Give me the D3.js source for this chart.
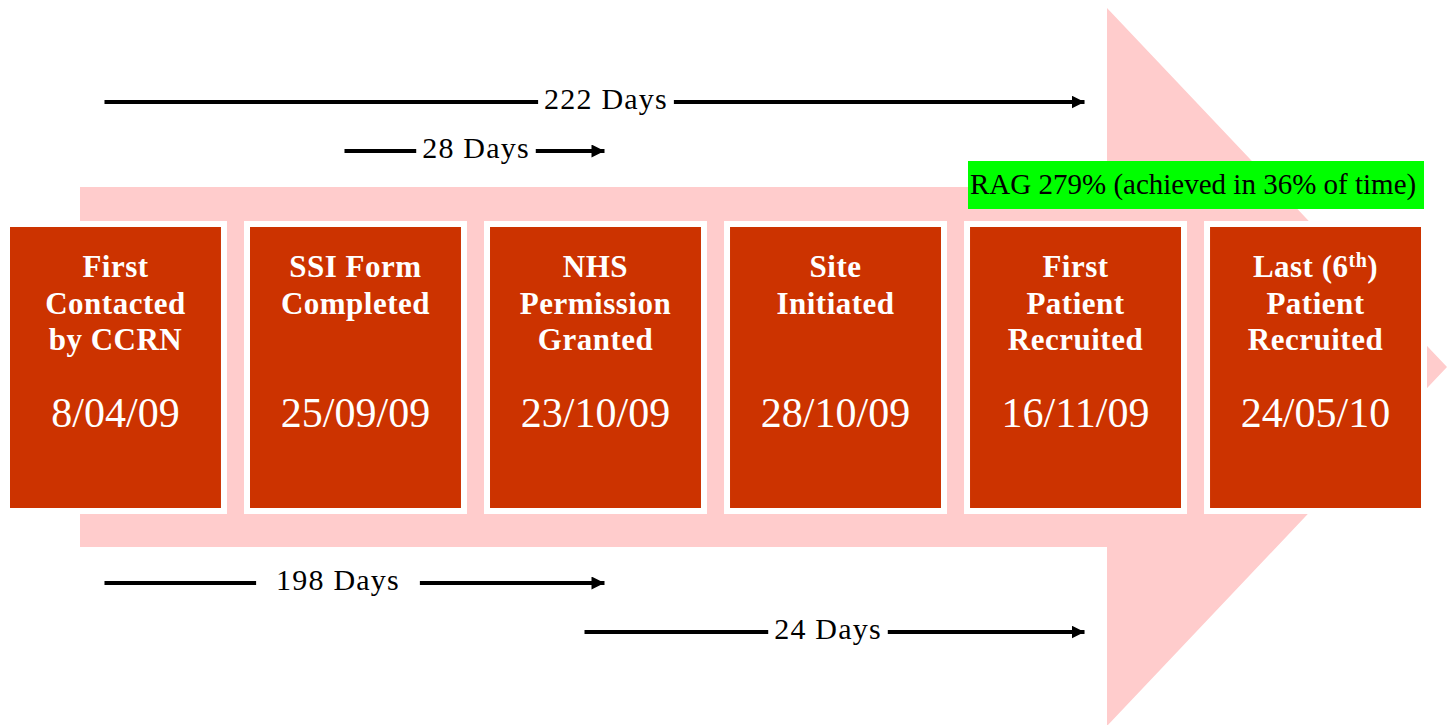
<!DOCTYPE html>
<html>
<head>
<meta charset="utf-8">
<script src="https://cdn.jsdelivr.net/npm/d3@7"></script>
<style>
  html, body { margin: 0; padding: 0; background: #fff; }
  svg { display: block; }
</style>
</head>
<body>
<svg id="chart" width="1447" height="725"></svg>
<script>
// stages along the timeline
const stageTitles = [
  ['First', 'Contacted', 'by CCRN'],
  ['SSI Form', 'Completed'],
  ['NHS', 'Permission', 'Granted'],
  ['Site', 'Initiated'],
  ['First', 'Patient', 'Recruited'],
  ['Last (6|th|)', 'Patient', 'Recruited']
];
const stageDates = ['8/04/09', '25/09/09', '23/10/09', '28/10/09', '16/11/09', '24/05/10'];

// durations between stages: [from index, to index]
const spanFrom = [0, 1, 0, 2];
const spanTo = [4, 2, 2, 4];
const spanLabels = ['222 Days', '28 Days', '198 Days', '24 Days'];
const spanRows = ['top1', 'top2', 'bot1', 'bot2'];

const ragLabel = 'RAG 279% (achieved in 36% of time)';

const svg = d3.select('#chart');
const serif = '"Liberation Serif", "Times New Roman", serif';

const x = d3.scaleBand()
  .domain(d3.range(stageDates.length))
  .range([10, 1421])
  .paddingInner(0.121)
  .paddingOuter(0);

const rowY = d3.scaleOrdinal()
  .domain(['top1', 'top2', 'bot1', 'bot2'])
  .range([102, 151, 583, 632]);

const boxTop = 227, boxBottom = 508;

// big pink arrow in the background
const shaftX0 = 80, headX = 1107, tipX = 1447, midY = 367;
const arrowPath = d3.path();
arrowPath.moveTo(shaftX0, 187);
arrowPath.lineTo(headX, 187);
arrowPath.lineTo(headX, 8);
arrowPath.lineTo(tipX, midY);
arrowPath.lineTo(headX, 726);
arrowPath.lineTo(headX, 547);
arrowPath.lineTo(shaftX0, 547);
arrowPath.closePath();
svg.append('path').attr('d', arrowPath.toString()).attr('fill', '#FFCCCC');

// RAG note
const rag = svg.append('g');
rag.append('rect')
  .attr('x', 968).attr('y', 161).attr('width', 456).attr('height', 48)
  .attr('fill', '#00FF00');
rag.append('text')
  .attr('x', 970).attr('y', 194)
  .style('font-family', serif).style('font-size', '29px')
  .attr('fill', '#000')
  .text(ragLabel);

// stage boxes
const boxes = svg.append('g').selectAll('g')
  .data(stageDates.map((d, i) => ({ i, date: d, title: stageTitles[i] })))
  .join('g');

boxes.append('rect')
  .attr('x', d => x(d.i) - 6).attr('y', boxTop - 6)
  .attr('width', x.bandwidth() + 12).attr('height', boxBottom - boxTop + 12)
  .attr('fill', '#fff');

boxes.append('rect')
  .attr('x', d => x(d.i)).attr('y', boxTop)
  .attr('width', x.bandwidth()).attr('height', boxBottom - boxTop)
  .attr('fill', '#CC3300');

boxes.each(function (d) {
  const g = d3.select(this);
  const cx = x(d.i) + x.bandwidth() / 2;
  d.title.forEach((line, k) => {
    const t = g.append('text')
      .attr('x', cx).attr('y', 277 + k * 36.5)
      .attr('text-anchor', 'middle')
      .attr('fill', '#fff')
      .style('font-family', serif).style('font-size', '31px').style('font-weight', 700)
      .style('letter-spacing', '0.5px');
    line.split('|').forEach((part, j) => {
      const ts = t.append('tspan').text(part);
      if (j === 1) ts.attr('dy', -10).style('font-size', '20px');
      if (j === 2) ts.attr('dy', 10);
    });
  });
  g.append('text')
    .attr('x', cx).attr('y', 427)
    .attr('text-anchor', 'middle')
    .attr('fill', '#fff')
    .style('font-family', serif).style('font-size', '42px')
    .text(d.date);
});

// duration arrows
const defs = svg.append('defs');
defs.append('marker')
  .attr('id', 'head')
  .attr('viewBox', '0 0 12 12')
  .attr('refX', 12).attr('refY', 6)
  .attr('markerWidth', 13).attr('markerHeight', 13)
  .attr('markerUnits', 'userSpaceOnUse')
  .attr('orient', 'auto')
  .append('path').attr('d', 'M0,0L12,6L0,12Z').attr('fill', '#000');

// label placement tweaks relative to the arrow middle
const labelShift = { '222 Days': 10, '28 Days': 0, '198 Days': -18, '24 Days': -8 };
const labelGap = { '198 Days': 20 };

spanLabels.forEach((label, i) => {
  const y = rowY(spanRows[i]);
  const x0 = x(spanFrom[i]) + x.bandwidth() / 2 - 11;
  const x1 = x(spanTo[i]) + x.bandwidth() / 2 + 12;
  const mid = (x0 + x1) / 2 + (labelShift[label] || 0);
  const g = svg.append('g');
  const t = g.append('text')
    .attr('x', mid).attr('y', y + 7)
    .attr('text-anchor', 'middle')
    .attr('fill', '#000')
    .style('font-family', serif).style('font-size', '30px')
    .style('letter-spacing', '1.2px')
    .text(label);
  const tw = t.node().getComputedTextLength();
  const gap = labelGap[label] || 6;
  g.append('line')
    .attr('x1', x0).attr('x2', mid - tw / 2 - gap)
    .attr('y1', y).attr('y2', y)
    .attr('stroke', '#000').attr('stroke-width', 4);
  g.append('line')
    .attr('x1', mid + tw / 2 + gap).attr('x2', x1 - 3)
    .attr('y1', y).attr('y2', y)
    .attr('stroke', '#000').attr('stroke-width', 4)
    .attr('marker-end', 'url(#head)');
});
</script>
</body>
</html>
